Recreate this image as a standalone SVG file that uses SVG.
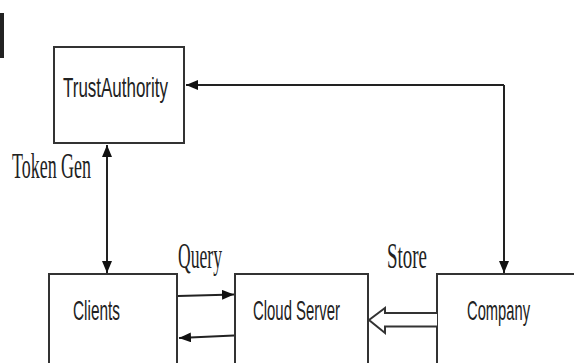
<svg xmlns="http://www.w3.org/2000/svg" width="574" height="363" viewBox="0 0 574 363">
<defs>
<style>
.box{fill:#fff;stroke:#333;stroke-width:2}
.lbl{font-family:"Liberation Sans","DejaVu Sans",sans-serif;font-size:28px;fill:#222}
.ser{font-family:"Liberation Serif","DejaVu Serif",serif;font-size:36px;fill:#222}
.ln{fill:none;stroke:#222;stroke-width:2}
</style>
<marker id="ah" viewBox="0 0 12 10" refX="12" refY="5" markerWidth="12" markerHeight="10" markerUnits="userSpaceOnUse" orient="auto-start-reverse">
<path d="M0,0 L12,5 L0,10 Z" fill="#111"/>
</marker>
</defs>
<rect x="0" y="0" width="574" height="363" fill="#fff"/>
<rect x="0" y="13" width="4" height="45" fill="#222"/>
<g id="trust">
<rect class="box" x="54" y="47" width="130" height="96"/>
<text class="lbl" x="63" y="97" textLength="105" lengthAdjust="spacingAndGlyphs">TrustAuthority</text>
</g>
<g id="clients">
<rect class="box" x="49" y="274" width="128" height="100"/>
<text class="lbl" x="73" y="320" textLength="47" lengthAdjust="spacingAndGlyphs">Clients</text>
</g>
<g id="cloud">
<rect class="box" x="235" y="274" width="133" height="100"/>
<text class="lbl" x="253" y="320" textLength="87" lengthAdjust="spacingAndGlyphs">Cloud Server</text>
</g>
<g id="company">
<rect class="box" x="437" y="274" width="150" height="100"/>
<text class="lbl" x="467" y="320" textLength="63" lengthAdjust="spacingAndGlyphs">Company</text>
</g>
<g id="connectors">
<path class="ln" d="M504,85 L186,85" marker-end="url(#ah)"/>
<path class="ln" stroke-width="1.5" d="M504,85 L504,273" marker-end="url(#ah)"/>
<path class="ln" stroke-width="1.5" d="M107,145 L107,273" marker-start="url(#ah)" marker-end="url(#ah)"/>
<path class="ln" stroke-width="2.5" d="M178,296 L234,294.5" marker-end="url(#ah)"/>
<path class="ln" stroke-width="2.5" d="M234,335.5 L179,338" marker-end="url(#ah)"/>
<path d="M437,313 L385,313 L385,308 L369,320 L385,333 L385,326.5 L437,326.5" fill="#fff" stroke="#333" stroke-width="2"/>
</g>
<g id="labels">
<text class="ser" x="12" y="178" textLength="79" lengthAdjust="spacingAndGlyphs">Token Gen</text>
<text class="ser" x="178" y="268" textLength="44" lengthAdjust="spacingAndGlyphs">Query</text>
<text class="ser" x="387" y="268" textLength="40" lengthAdjust="spacingAndGlyphs">Store</text>
</g>
</svg>
